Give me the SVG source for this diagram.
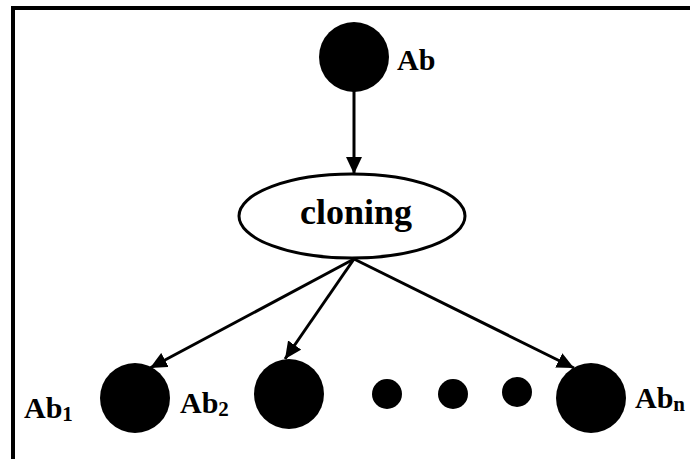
<svg xmlns="http://www.w3.org/2000/svg" width="690" height="459" viewBox="0 0 690 459">
  <style>
    .lbl { font-family: "Liberation Serif", "Times New Roman", serif; font-weight: bold; fill: #000; }
    .ab { font-size: 30px; }
    .sub { font-size: 21px; }
    .conn { stroke: #000; stroke-width: 3; fill: none; marker-end: url(#arrow); }
    .ball { fill: #000; }
  </style>
  <defs>
    <marker id="arrow" markerUnits="userSpaceOnUse" markerWidth="18" markerHeight="16" refX="17" refY="8" orient="auto">
      <path d="M0,0 L17,8 L0,16 Z" fill="#000"/>
    </marker>
  </defs>

  <rect width="690" height="459" fill="#fff"/>
  <!-- frame -->
  <rect x="13" y="8" width="690" height="470" fill="none" stroke="#000" stroke-width="4"/>

  <g id="connectors">
    <line class="conn" x1="354" y1="90" x2="354" y2="174"/>
    <line class="conn" x1="354" y1="259" x2="150" y2="368"/>
    <line class="conn" x1="354" y1="259" x2="285" y2="359"/>
    <line class="conn" x1="354" y1="259" x2="574" y2="368"/>
  </g>

  <g id="ab">
    <circle class="ball" cx="354" cy="57" r="35"/>
    <text class="lbl ab" x="397" y="70">Ab</text>
  </g>

  <g id="cloning">
    <ellipse cx="352" cy="216" rx="113" ry="42" fill="#fff" stroke="#000" stroke-width="3"/>
    <text class="lbl" x="356" y="224" font-size="36" text-anchor="middle">cloning</text>
  </g>

  <g id="ab1">
    <circle class="ball" cx="135" cy="398" r="35"/>
    <text class="lbl ab" x="24" y="418">Ab<tspan class="sub" dy="3">1</tspan></text>
  </g>

  <g id="ab2">
    <circle class="ball" cx="289" cy="394" r="35"/>
    <text class="lbl ab" x="180" y="413">Ab<tspan class="sub" dy="3">2</tspan></text>
  </g>

  <g id="dots">
    <circle class="ball" cx="387" cy="394" r="15"/>
    <circle class="ball" cx="453" cy="394" r="15"/>
    <circle class="ball" cx="517" cy="392" r="15"/>
  </g>

  <g id="abn">
    <circle class="ball" cx="591" cy="398" r="35"/>
    <text class="lbl ab" x="635" y="408">Ab<tspan class="sub" dy="3">n</tspan></text>
  </g>
</svg>
